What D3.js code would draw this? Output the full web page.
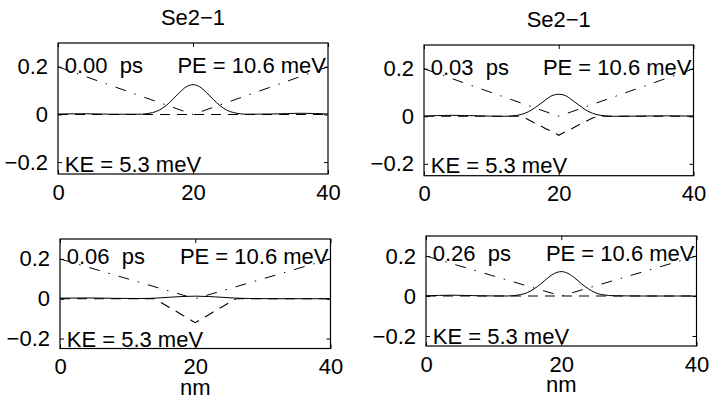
<!DOCTYPE html>
<html>
<head>
<meta charset="utf-8">
<script src="https://cdn.jsdelivr.net/npm/d3@7"></script>
<style>
  body { margin: 0; background: #fff; }
  svg text { font-family: "Liberation Sans", Arial, sans-serif; white-space: pre; }
</style>
</head>
<body>
<svg id="chart" width="711" height="399"></svg>
<script>
// sample positions (nm) shared by all curves
const gridNm = [0, 4, 8, 12, 14, 15, 16, 17, 18, 19, 20, 21, 22, 23, 24, 25, 26, 28, 32, 36, 40];

// solid curve (packet) per snapshot
const packetT000 = [0.002, 0.003, 0.001, 0.001, 0.008, 0.018, 0.037, 0.063, 0.092, 0.116, 0.125, 0.116, 0.092, 0.063, 0.037, 0.018, 0.008, 0.001, 0.002, 0.005, 0.002];
const packetT003 = [0.001, 0.004, 0.002, 0.000, 0.005, 0.013, 0.027, 0.047, 0.068, 0.087, 0.093, 0.087, 0.068, 0.047, 0.027, 0.013, 0.005, 0.000, 0.001, 0.002, 0.001];
const packetT006 = [0.003, 0.004, 0.002, 0.001, 0.003, 0.005, 0.007, 0.009, 0.011, 0.012, 0.013, 0.012, 0.011, 0.009, 0.007, 0.005, 0.003, 0.001, 0.000, 0.000, 0.000];
const packetT026 = [0.001, 0.004, 0.001, 0.000, 0.007, 0.017, 0.036, 0.061, 0.090, 0.113, 0.122, 0.113, 0.090, 0.061, 0.036, 0.017, 0.007, 0.001, 0.000, 0.000, 0.000];

// dashed curve per snapshot
const dashT000 = [0, 0, 0, 0, 0, 0, 0, 0, 0, 0, 0, 0, 0, 0, 0, 0, 0, 0, 0, 0, 0];
const dashT003 = [0, 0, 0, 0, 0, -0.007, -0.022, -0.036, -0.051, -0.065, -0.080, -0.065, -0.051, -0.036, -0.022, -0.007, 0, 0, 0, 0, 0];
const dashT006 = [0, 0, 0, 0, 0, -0.020, -0.040, -0.060, -0.080, -0.100, -0.120, -0.100, -0.080, -0.060, -0.040, -0.020, 0, 0, 0, 0, 0];
const dashT026 = [0, 0, 0, 0, 0, 0, 0, 0, 0, 0, 0, 0, 0, 0, 0, 0, 0, 0, 0, 0, 0];

// potential (dash-dot)
const potentialNm = [0, 20, 40];
const potentialVal = [0.2, 0, 0.2];

// labels
const timeLabels = ["0.00  ps", "0.03  ps", "0.06  ps", "0.26  ps"];
const peLabel = "PE = 10.6 meV";
const keLabel = "KE = 5.3 meV";
const titleLabel = "Se2\u22121";
const xTicks = [0, 20, 40];
const yTicks = [-0.2, 0, 0.2];

const packets = [packetT000, packetT003, packetT006, packetT026];
const dashes = [dashT000, dashT003, dashT006, dashT026];

// panel boxes (pixels)
const boxes = [
  { left: 58, top: 43, right: 328, bottom: 174, title: true },
  { left: 424, top: 45, right: 693.5, bottom: 175.7, title: true },
  { left: 60, top: 239, right: 330.5, bottom: 348.5, xlabel: true },
  { left: 426, top: 236, right: 696.5, bottom: 346, xlabel: true }
];

const fontSize = 22;
const svg = d3.select("#chart");

boxes.forEach((b, i) => {
  const x = d3.scaleLinear().domain([0, 40]).range([b.left, b.right]);
  const y = d3.scaleLinear().domain([-0.25, 0.3]).range([b.bottom, b.top]);
  const g = svg.append("g");

  g.append("clipPath").attr("id", "clip" + i)
    .append("rect")
    .attr("x", b.left).attr("y", b.top)
    .attr("width", b.right - b.left).attr("height", b.bottom - b.top);

  const plot = g.append("g").attr("clip-path", `url(#clip${i})`)
    .attr("fill", "none").attr("stroke", "black");

  // potential
  plot.append("path")
    .datum(potentialNm.map((d, j) => [d, potentialVal[j]]))
    .attr("stroke-width", 1)
    .attr("stroke-dasharray", "11,9,1.5,9")
    .attr("d", d3.line().x(d => x(d[0])).y(d => y(d[1])));

  // packet
  plot.append("path")
    .datum(gridNm.map((d, j) => [d, packets[i][j]]))
    .attr("stroke-width", 1)
    .attr("d", d3.line().curve(d3.curveMonotoneX).x(d => x(d[0])).y(d => y(d[1])));

  // dashed
  plot.append("path")
    .datum(gridNm.map((d, j) => [d, dashes[i][j]]))
    .attr("stroke-width", 1.1)
    .attr("stroke-dasharray", "10,7")
    .attr("d", d3.line().x(d => x(d[0])).y(d => y(d[1])));

  // axes with inward ticks
  const axB = g.append("g").attr("transform", `translate(0,${b.bottom})`)
    .call(d3.axisBottom(x).tickValues(xTicks).tickSize(-4).tickPadding(10).tickFormat(d3.format("d")));
  const axT = g.append("g").attr("transform", `translate(0,${b.top})`)
    .call(d3.axisTop(x).tickValues(xTicks).tickSize(-4).tickFormat(""));
  const axL = g.append("g").attr("transform", `translate(${b.left},0)`)
    .call(d3.axisLeft(y).tickValues(yTicks).tickSize(-4).tickPadding(10).tickFormat(d => d === 0 ? "0" : d3.format(".1f")(d)));
  const axR = g.append("g").attr("transform", `translate(${b.right},0)`)
    .call(d3.axisRight(y).tickValues(yTicks).tickSize(-4).tickFormat(""));
  [axB, axT, axL, axR].forEach(a => {
    a.select(".domain").remove();
    a.selectAll("text").attr("font-size", fontSize).attr("fill", "black")
      .style("font-family", "'Liberation Sans', Arial, sans-serif");
    a.selectAll("line").attr("stroke", "black");
  });

  g.append("rect")
    .attr("x", b.left).attr("y", b.top)
    .attr("width", b.right - b.left).attr("height", b.bottom - b.top)
    .attr("fill", "none").attr("stroke", "black").attr("stroke-width", 1.2);

  // annotations
  g.append("text").attr("x", x(1)).attr("y", y(0.175))
    .attr("font-size", fontSize).text(timeLabels[i]);
  g.append("text").attr("x", b.right - 2).attr("y", y(0.175))
    .attr("text-anchor", "end").attr("font-size", fontSize).text(peLabel);
  g.append("text").attr("x", x(1)).attr("y", y(-0.24))
    .attr("font-size", fontSize).text(keLabel);

  if (b.title) {
    g.append("text").attr("x", (b.left + b.right) / 2).attr("y", b.top - 18.5)
      .attr("text-anchor", "middle").attr("font-size", fontSize).text(titleLabel);
  }
  if (b.xlabel) {
    g.append("text").attr("x", (b.left + b.right) / 2).attr("y", b.bottom + 46)
      .attr("text-anchor", "middle").attr("font-size", fontSize).text("nm");
  }
});
</script>
</body>
</html>
